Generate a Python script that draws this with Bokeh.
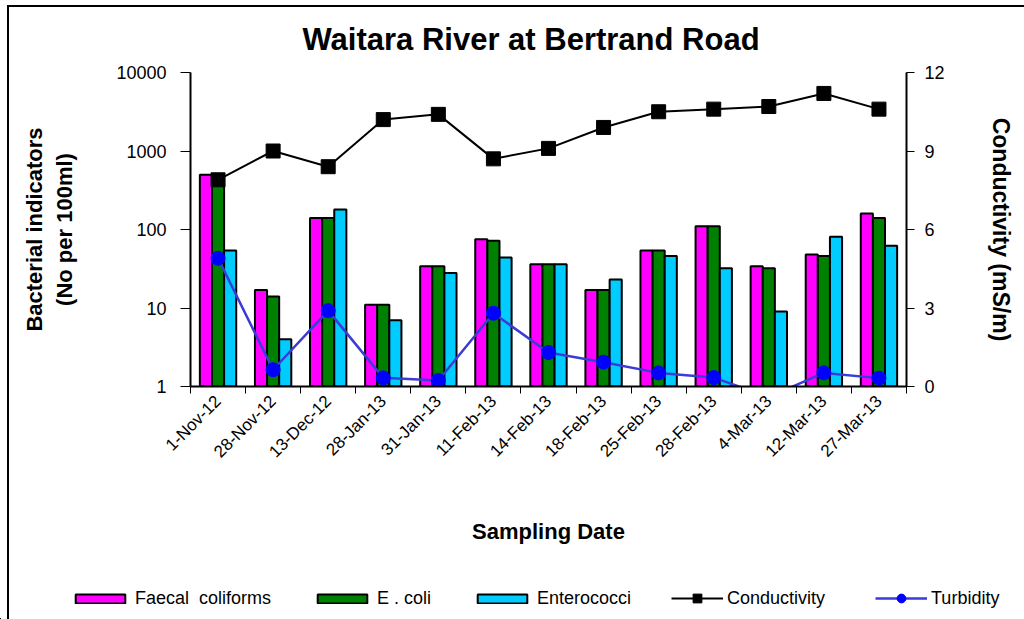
import math
from bokeh.plotting import figure
from bokeh.layouts import column
from bokeh.models import (Range1d, LinearAxis, LinearScale, FixedTicker, Legend, LegendItem,
                          NumeralTickFormatter, ColumnDataSource)
from bokeh.transform import dodge
from bokeh.embed import file_html
from bokeh.resources import INLINE

dates = ["1-Nov-12", "28-Nov-12", "13-Dec-12", "28-Jan-13", "31-Jan-13", "11-Feb-13",
         "14-Feb-13", "18-Feb-13", "25-Feb-13", "28-Feb-13", "4-Mar-13", "12-Mar-13", "27-Mar-13"]
faecal = [500, 17, 140, 11, 34, 75, 36, 17, 54, 110, 34, 48, 160]
ecoli = [460, 14, 140, 11, 34, 72, 36, 17, 54, 110, 32, 46, 140]
entero = [54, 4, 180, 7, 28, 44, 36, 23, 46, 32, 9, 81, 62]
conductivity = [7.9, 9.0, 8.4, 10.2, 10.4, 8.7, 9.1, 9.9, 10.5, 10.6, 10.7, 11.2, 10.6]
turbidity = [4.9, 0.64, 2.9, 0.33, 0.23, 2.8, 1.3, 0.93, 0.52, 0.34, -0.4, 0.52, 0.32]
left_ticks = [1, 10, 100, 1000, 10000]
right_ticks = [0, 3, 6, 9, 12]
bar_names = ["Faecal  coliforms", "E . coli", "Enterococci"]
line_names = ["Conductivity", "Turbidity"]

FONT = "Liberation Sans"
xs = list(range(len(dates)))

BAR_STYLES = [dict(fill_color="#ff00ff", line_color="black", line_width=2),
              dict(fill_color="#008000", line_color="black", line_width=2),
              dict(fill_color="#00ccff", line_color="black", line_width=2)]
COND_LINE = dict(line_color="black", line_width=2)
COND_MARK = dict(marker="square", size=14, fill_color="black", line_color="black")
TURB_LINE = dict(line_color="#3b3bd6", line_width=2.5)
TURB_MARK = dict(marker="circle", size=14, fill_color="#0000ff", line_color="#0000ff")

src = ColumnDataSource(dict(x=xs, faecal=faecal, ecoli=ecoli, entero=entero,
                            cond=conductivity, turb=turbidity))

H1 = 575
p = figure(width=1024, height=H1, output_backend="svg", toolbar_location=None,
           y_axis_type="log", x_range=Range1d(-0.5, len(dates) - 0.5),
           y_range=Range1d(1, 10000),
           min_border_left=190, min_border_right=118, min_border_top=72, min_border_bottom=H1 - 386)
p.frame_align = False
p.extra_y_ranges = {"cond": Range1d(0, 12)}
p.extra_y_scales = {"cond": LinearScale()}
p.outline_line_color = None
p.xgrid.visible = False
p.ygrid.visible = False
p.border_fill_color = None
p.background_fill_color = "white"

p.title.text = "Waitara River at Bertrand Road"
p.title.text_font = FONT
p.title.text_font_size = "31px"
p.title.text_font_style = "bold"
p.title.text_color = "black"
p.title.align = "left"
p.title.offset = 112
p.title.standoff = 31

bw = 0.22
for off, col, st in zip([-bw, 0, bw], ["faecal", "ecoli", "entero"], BAR_STYLES):
    p.vbar(x=dodge("x", off, range=p.x_range), top=col, bottom=1, width=bw, source=src, **st)

p.line("x", "cond", source=src, y_range_name="cond", **COND_LINE)
p.scatter("x", "cond", source=src, y_range_name="cond", **COND_MARK)
p.line("x", "turb", source=src, y_range_name="cond", **TURB_LINE)
p.scatter("x", "turb", source=src, y_range_name="cond", **TURB_MARK)

# axes
xa = p.xaxis[0]
xa.ticker = FixedTicker(ticks=xs, minor_ticks=[i - 0.5 for i in range(len(dates) + 1)])
xa.major_label_overrides = {i: d for i, d in enumerate(dates)}
xa.major_label_orientation = math.pi / 4
xa.major_tick_line_color = None
xa.minor_tick_line_color = "black"
xa.minor_tick_line_width = 1
xa.minor_tick_out = 7
xa.minor_tick_in = 0
xa.axis_line_width = 2
xa.major_label_text_font = FONT
xa.major_label_text_font_size = "17px"
xa.major_label_text_color = "black"
xa.axis_label = "Sampling Date"
xa.axis_label_text_font = FONT
xa.axis_label_text_font_size = "22px"
xa.axis_label_text_font_style = "bold"
xa.axis_label_text_color = "black"
xa.axis_label_standoff = 48

ya = p.yaxis[0]
ya.ticker = FixedTicker(ticks=left_ticks)
ya.formatter = NumeralTickFormatter(format="0")
ya.minor_tick_line_color = None
ya.major_tick_out = 10
ya.major_tick_in = 0
ya.axis_line_width = 2
ya.major_label_standoff = 14
ya.major_label_text_font = FONT
ya.major_label_text_font_size = "18px"
ya.major_label_text_color = "black"
ya.axis_label = "Bacterial indicators\n(No per 100ml)"
ya.axis_label_text_font = FONT
ya.axis_label_text_font_size = "22px"
ya.axis_label_text_font_style = "bold"
ya.axis_label_text_color = "black"
ya.axis_label_standoff = 36

ra = LinearAxis(y_range_name="cond", ticker=FixedTicker(ticks=right_ticks))
ra.major_tick_out = 8
ra.major_tick_in = 0
ra.minor_tick_line_color = None
ra.axis_line_width = 2
ra.major_label_standoff = 10
ra.major_label_text_font = FONT
ra.major_label_text_font_size = "18px"
ra.major_label_text_color = "black"
ra.axis_label = "Conductivity (mS/m)"
ra.axis_label_text_font = FONT
ra.axis_label_text_font_size = "23px"
ra.axis_label_text_font_style = "bold"
ra.axis_label_text_color = "black"
ra.axis_label_standoff = 40
p.add_layout(ra, "right")

# legend strip: its own small figure; its renderers plot the same data outside the visible range
H2 = 619 - H1
lg = figure(width=1024, height=H2, output_backend="svg", toolbar_location=None,
            x_axis_location=None, y_axis_location=None,
            x_range=Range1d(1000, 1001), y_range=Range1d(1000, 1001), min_border=0)
lg.frame_align = False
lg.outline_line_color = None
lg.xgrid.visible = False
lg.ygrid.visible = False
lg.border_fill_color = None
lg.background_fill_color = None
bar_r = [[lg.vbar(x="x", top=col, width=bw, source=src, **st)]
         for col, st in zip(["faecal", "ecoli", "entero"], BAR_STYLES)]
line_r = [[lg.line("x", "cond", source=src, **COND_LINE),
           lg.scatter("x", "cond", source=src, **COND_MARK)],
          [lg.line("x", "turb", source=src, **TURB_LINE),
           lg.scatter("x", "turb", source=src, **TURB_MARK)]]

common = dict(orientation="horizontal", label_height=16, label_standoff=4, padding=0, margin=0,
              border_line_color=None, background_fill_alpha=0, label_text_font=FONT,
              label_text_font_size="18px", label_text_color="black")
leg_bars = Legend(items=[LegendItem(label=n, renderers=r) for n, r in zip(bar_names, bar_r)],
                  location=(69, 10), glyph_width=62, glyph_height=11, spacing=40, **common)
leg_lines = Legend(items=[LegendItem(label=n, renderers=r) for n, r in zip(line_names, line_r)],
                   location=(671, 10), glyph_width=52, glyph_height=22, spacing=50, **common)
lg.add_layout(leg_bars, "center")
lg.add_layout(leg_lines, "center")

layout = column(p, lg, spacing=0)
layout.styles = {"box-shadow": "inset 7px 5px 0 0 white, inset 9px 7px 0 0 black"}
open("out.html", "w").write(file_html(layout, INLINE))
